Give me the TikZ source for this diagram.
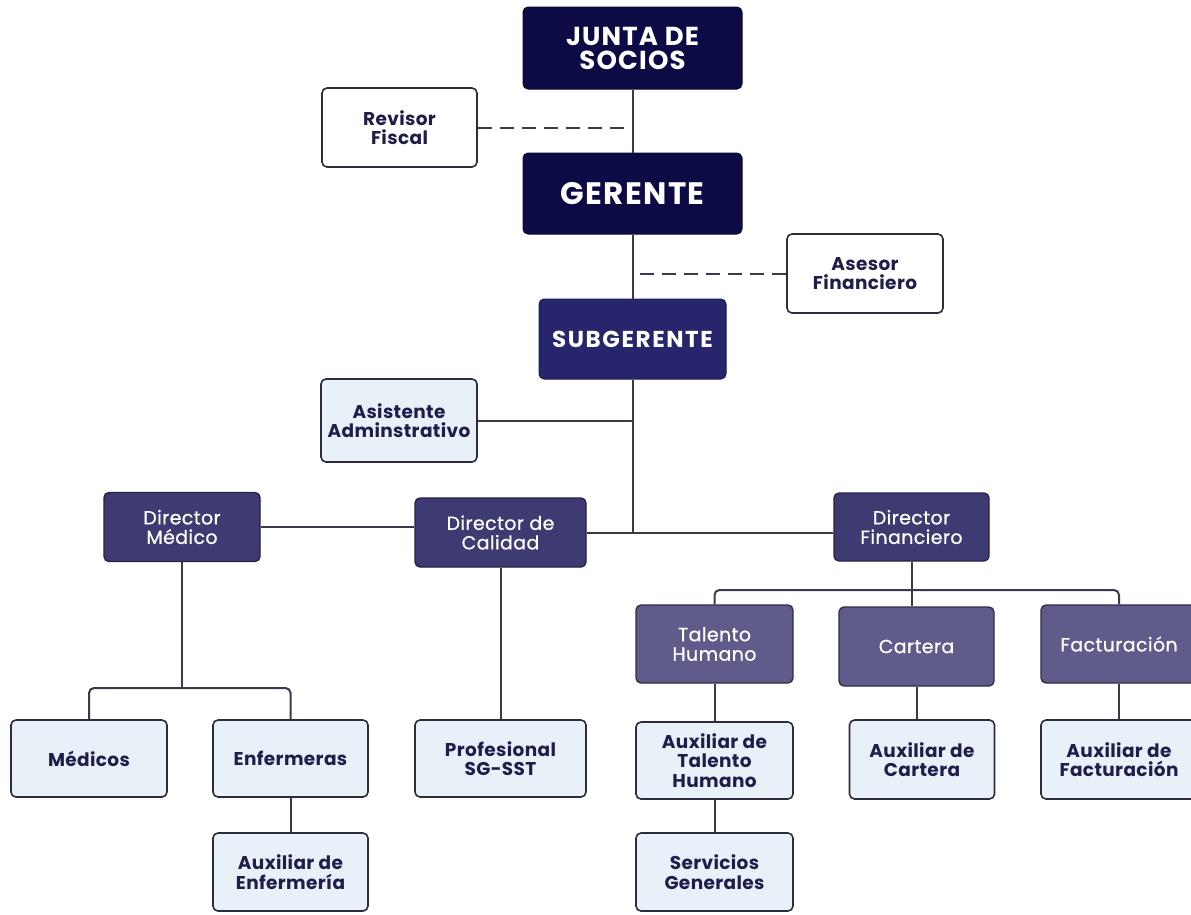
\documentclass[tikz,border=0pt]{standalone}
\usepackage{fontspec}
\setmainfont{Poppins}
\newfontfamily\lsA{Poppins}[LetterSpace=2]
\newfontfamily\lsM{Poppins}[LetterSpace=2, FakeBold=0.7]
\newfontfamily\lsB{Poppins}[LetterSpace=4.5]
\newfontfamily\lsC{Poppins}[LetterSpace=7]
\definecolor{navy}{HTML}{0C0B46}
\definecolor{subc}{HTML}{27266C}
\definecolor{dirc}{HTML}{3D3B72}
\definecolor{midc}{HTML}{5F5C8C}
\definecolor{lightc}{HTML}{E8F0F8}
\definecolor{edgec}{HTML}{2C2C3C}
\definecolor{txtc}{HTML}{1F1E4B}
\definecolor{linec}{HTML}{3A3A4A}
\tikzset{
  x=1pt, y=-1pt,
  box/.style={rectangle, rounded corners=5pt, align=center, inner sep=2pt},
  topbox/.style={box, fill=navy, draw=navy!80!black, line width=1pt, text=white},
  subbox/.style={box, fill=subc, draw=subc!80!black, line width=1pt, text=white},
  dirbox/.style={box, fill=dirc, draw=dirc!60!black, line width=1.4pt, text=white,
    font=\lsM\fontsize{19}{19.5}\selectfont},
  midbox/.style={box, fill=midc, draw=midc!50!black, line width=1.4pt, text=white,
    font=\lsM\fontsize{19}{19.5}\selectfont},
  lightbox/.style={box, fill=lightc, draw=edgec, line width=1.6pt, text=txtc,
    font=\lsA\fontsize{18.5}{19.5}\selectfont\bfseries},
  whitebox/.style={box, fill=white, draw=edgec, line width=1.6pt, text=txtc,
    font=\lsA\fontsize{18.5}{19.5}\selectfont\bfseries},
  conn/.style={draw=linec, line width=2pt},
  dconn/.style={conn, dash pattern=on 14pt off 8pt},
}
\begin{document}
\begin{tikzpicture}
\fill[white] (0,0) rectangle (1191,914);
\useasboundingbox (0,0) rectangle (1191,914);

\node[topbox, minimum width=219pt, minimum height=82pt, font=\lsB\fontsize{26}{24}\selectfont\bfseries] (junta) at (632.5,48) {JUNTA DE\\SOCIOS};
\node[whitebox, minimum width=155pt, minimum height=79pt] (revisor) at (399.5,127.5) {Revisor\\Fiscal};
\node[topbox, minimum width=219pt, minimum height=81pt, font=\lsB\fontsize{31}{31}\selectfont\bfseries] (gerente) at (632.5,193.5) {GERENTE};
\node[whitebox, minimum width=156pt, minimum height=79pt] (asesor) at (865,273.5) {Asesor\\Financiero};
\node[subbox, minimum width=187pt, minimum height=80pt, font=\lsC\fontsize{23}{23}\selectfont\bfseries] (sub) at (632.5,339) {SUBGERENTE};
\node[lightbox, minimum width=156pt, minimum height=83pt] (asist) at (399,420.5) {Asistente\\Adminstrativo};

\node[dirbox, minimum width=156pt, minimum height=69pt] (dmed) at (182,527) {Director\\Médico};
\node[dirbox, minimum width=171pt, minimum height=69pt] (dcal) at (500.5,532.5) {Director de\\Calidad};
\node[dirbox, minimum width=155pt, minimum height=68pt] (dfin) at (911.5,527) {Director\\Financiero};

\node[midbox, minimum width=157pt, minimum height=78pt] (talento) at (714.5,644) {Talento\\Humano};
\node[midbox, minimum width=155pt, minimum height=79pt] (cartera) at (916.5,646.5) {Cartera};
\node[midbox, minimum width=156pt, minimum height=78pt] (fact) at (1119,644) {Facturación};

\node[lightbox, minimum width=156pt, minimum height=77pt] (medicos) at (89,758.5) {Médicos};
\node[lightbox, minimum width=155pt, minimum height=77pt] (enf) at (290.5,758.5) {Enfermeras};
\node[lightbox, minimum width=155pt, minimum height=78pt] (auxenf) at (290.5,872) {Auxiliar de\\Enfermería};
\node[lightbox, minimum width=171pt, minimum height=77pt] (prof) at (500.5,758.5) {Profesional\\SG-SST};
\node[lightbox, minimum width=157pt, minimum height=77pt] (auxtal) at (714.5,760.5) {Auxiliar de\\Talento\\Humano};
\node[lightbox, minimum width=157pt, minimum height=78pt] (serv) at (714.5,872) {Servicios\\Generales};
\node[lightbox, minimum width=145pt, minimum height=79pt] (auxcart) at (922,759.5) {Auxiliar de\\Cartera};
\node[lightbox, minimum width=156pt, minimum height=79pt] (auxfact) at (1119,759.5) {Auxiliar de\\Facturación};

\coordinate (mbus) at (182,688);
\coordinate (fbus) at (911.5,590);

\draw[conn] (junta.south) -- (gerente.north);
\draw[dconn] (revisor.east) -- (revisor.east -| junta.south);
\draw[conn] (gerente.south) -- (sub.north);
\draw[dconn] (asesor.west) -- (asesor.west -| gerente.south);
\draw[conn] (sub.south) -- (sub.south |- dcal.east);
\draw[conn] (asist.east) -- (asist.east -| sub.south);
\draw[conn] (dcal.east) -- (dcal.east -| dfin.west);
\draw[conn] (dmed.east) -- (dmed.east -| dcal.west);
\draw[conn] (dmed.south) -- (mbus);
\draw[conn, rounded corners=5pt] (medicos.north) |- (mbus) -| (enf.north);
\draw[conn] (enf.south) -- (auxenf.north);
\draw[conn] (dcal.south) -- (prof.north);
\draw[conn] (dfin.south) -- (dfin.south |- cartera.north);
\draw[conn, rounded corners=5pt] (talento.north) |- (fbus) -| (fact.north);
\draw[conn] (talento.south) -- (auxtal.north);
\draw[conn] (auxtal.south) -- (serv.north);
\draw[conn] (cartera.south) -- (cartera.south |- auxcart.north);
\draw[conn] (fact.south) -- (auxfact.north);
\end{tikzpicture}
\end{document}
